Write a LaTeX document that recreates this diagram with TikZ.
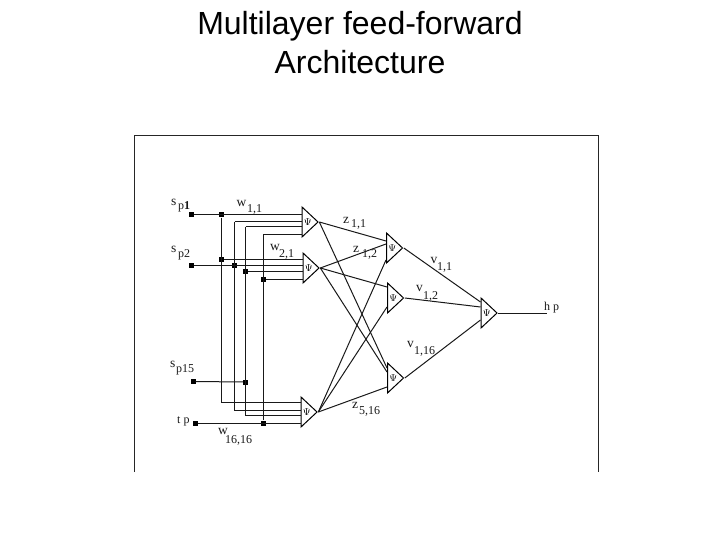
\documentclass[tikz,border=0pt]{standalone}
\usepackage{fontspec}
\setmainfont{Liberation Serif}
\newfontfamily\titlefont{Liberation Sans}
\usetikzlibrary{shapes.geometric}
\tikzset{
  x=1pt,y=-1pt,
  neuron/.style={isosceles triangle,isosceles triangle stretches,draw=black,line width=1pt,
    minimum width=30pt,minimum height=15pt,inner sep=0pt,anchor=lower side,font=\fontsize{10}{10}\selectfont},
  dot/.style={rectangle,fill=black,minimum size=5pt,inner sep=0pt},
  wire/.style={line width=1pt,black!90},
  lab/.style={font=\fontsize{12}{12}\selectfont,inner sep=0pt,text=black!90,anchor=base west},
  bigl/.style={lab,font=\fontsize{13.5}{13.5}\selectfont},
  ttl/.style={font=\titlefont\fontsize{32}{32}\selectfont,inner sep=0pt,text=black,anchor=base}
}
\begin{document}
\begin{tikzpicture}
\useasboundingbox (0,0) rectangle (720,540);
\node[ttl] (title1) at (360,35) {Multilayer feed-forward};
\node[ttl] (title2) at (360,74) {Architecture};
\draw[line width=1.2pt,black!85] (134.5,472) -- (134.5,135.5) -- (598.5,135.5) -- (598.5,472);
% neurons
\node[neuron] (t1) at (301.5,222) {$\Psi$};
\node[neuron] (t2) at (302.5,268) {$\Psi$};
\node[neuron] (t3) at (300.5,412) {$\Psi$};
\node[neuron] (h1) at (386,248) {$\Psi$};
\node[neuron] (h2) at (387,298) {$\Psi$};
\node[neuron] (h3) at (387,378) {$\Psi$};
\node[neuron] (o) at (480.5,313) {$\Psi$};
% input ports
\coordinate (t1a) at (301.5,215);\coordinate (t1b) at (301.5,222);\coordinate (t1c) at (301.5,227);\coordinate (t1d) at (301.5,234);
\coordinate (t2a) at (302.5,259);\coordinate (t2b) at (302.5,265);\coordinate (t2c) at (302.5,271);\coordinate (t2d) at (302.5,279);
\coordinate (t3a) at (300.5,402);\coordinate (t3b) at (300.5,410);\coordinate (t3c) at (300.5,415);\coordinate (t3d) at (300.5,423);
\coordinate (h1a) at (386,241);\coordinate (h1b) at (386,244);\coordinate (h1c) at (386,260);
\coordinate (h2a) at (387,287);\coordinate (h2b) at (387,307);
\coordinate (h3a) at (387,368);\coordinate (h3b) at (387,372);\coordinate (h3c) at (387,387);
\coordinate (oa) at (480.5,302);\coordinate (ob) at (480.5,307);\coordinate (oc) at (480.5,320);
\coordinate (hpend) at (547,313);
% input dots
\node[dot] (s1) at (191,215) {};
\node[dot] (s2) at (191,265) {};
\node[dot] (s15) at (193,381.5) {};
\node[dot] (tp) at (195,423) {};
\node[dot] (n11) at (221.5,215) {};
\node[dot] (n21) at (221.5,259) {};
\node[dot] (n22) at (234.5,265) {};
\node[dot] (n23) at (245.5,271) {};
\node[dot] (n24) at (263.5,279) {};
\node[dot] (n15) at (245.5,382) {};
\node[dot] (n16) at (263.5,423) {};
\coordinate (b2) at (234.5,222);\coordinate (b3) at (245.5,227);\coordinate (b4) at (263.5,234);
% wiring
\draw[wire] (s1) -- (t1a);
\draw[wire] (s2) -- (t2b);
\draw[wire] (s15) -- (n15);
\draw[wire] (tp) -- (t3d);
\draw[wire] (n21) -- (t2a);
\draw[wire] (n23) -- (t2c);
\draw[wire] (n24) -- (t2d);
\draw[wire] (b2) -- (t1b);
\draw[wire] (b3) -- (t1c);
\draw[wire] (n16) -- (b4) -- (t1d);
\draw[wire] (n11) |- (t3a);
\draw[wire] (b2) |- (t3b);
\draw[wire] (b3) |- (t3c);
% hidden connections
\draw[wire] (t1.apex) -- (h1a);
\draw[wire] (t1.apex) -- (h3a);
\draw[wire] (t2.apex) -- (h1b);
\draw[wire] (t2.apex) -- (h2a);
\draw[wire] (t2.apex) -- (h3b);
\draw[wire] (t3.apex) -- (h1c);
\draw[wire] (t3.apex) -- (h2b);
\draw[wire] (t3.apex) -- (h3c);
\draw[wire] (h1.apex) -- (oa);
\draw[wire] (h2.apex) -- (ob);
\draw[wire] (h3.apex) -- (oc);
\draw[wire] (o.apex) -- (hpend);
% labels
\node[bigl] (ls1) at (171,206) {s};
\node[lab] (ls1b) at (178,210) {p\textbf{1}};
\node[bigl] (ls2) at (171,252) {s};
\node[lab] (ls2b) at (178,258) {p2};
\node[bigl] (ls15) at (170,367) {s};
\node[lab] (ls15b) at (176,372) {p15};
\node[lab] (ltp) at (177,423) {t p};
\node[bigl] (lw11) at (236.5,207) {w};
\node[lab] (lw11b) at (247,213) {1,1};
\node[bigl] (lw21) at (270,250) {w};
\node[lab] (lw21b) at (279,258) {2,1};
\node[bigl] (lw16) at (218,434) {w};
\node[lab] (lw16b) at (225,443) {16,16};
\node[bigl] (lz11) at (343,223) {z};
\node[lab] (lz11b) at (351,227) {1,1};
\node[bigl] (lz12) at (353,252) {z};
\node[lab] (lz12b) at (362,257) {1,2};
\node[bigl] (lz5) at (352,408) {z};
\node[lab] (lz5b) at (359,414) {5,16};
\node[bigl] (lv11) at (430.5,263) {v};
\node[lab] (lv11b) at (437,270) {1,1};
\node[bigl] (lv12) at (416,291) {v};
\node[lab] (lv12b) at (423,299) {1,2};
\node[bigl] (lv16) at (407,347) {v};
\node[lab] (lv16b) at (414,354) {1,16};
\node[lab] (lhp) at (544,310) {h p};
\end{tikzpicture}
\end{document}
